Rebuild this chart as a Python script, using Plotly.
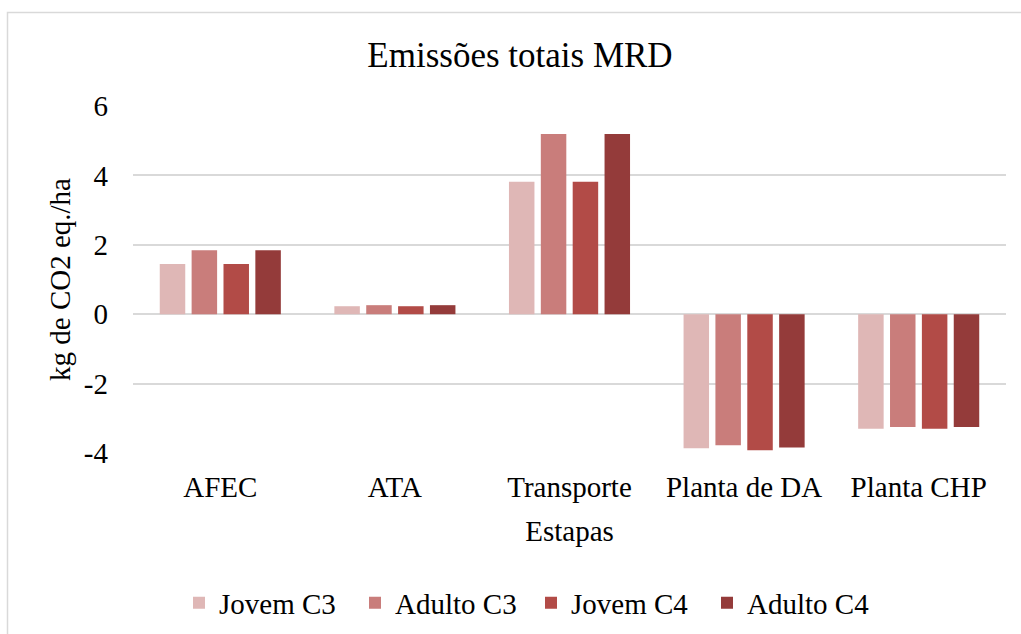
import plotly.graph_objects as go

# Stages (x categories)
etapas = ["AFEC", "ATA", "Transporte", "Planta de DA", "Planta CHP"]

# Emissions per stage, kg CO2 eq./ha
jovem_c3 = [1.45, 0.23, 3.82, -3.86, -3.30]
adulto_c3 = [1.84, 0.26, 5.19, -3.78, -3.25]
jovem_c4 = [1.45, 0.23, 3.82, -3.92, -3.30]
adulto_c4 = [1.84, 0.26, 5.19, -3.84, -3.25]

series_names = ["Jovem C3", "Adulto C3", "Jovem C4", "Adulto C4"]
series_values = [jovem_c3, adulto_c3, jovem_c4, adulto_c4]
series_colors = ["#DFB7B6", "#C97D7B", "#B24B47", "#943B3A"]

y_ticks = [-4, -2, 0, 2, 4, 6]

FONT = "Liberation Serif, Times New Roman, serif"
GRID = "#D9D9D9"

fig = go.Figure()
for name, vals, col in zip(series_names, series_values, series_colors):
    fig.add_trace(go.Bar(
        x=etapas, y=vals, name=name,
        marker=dict(color=col, line=dict(width=0)),
    ))

W, H = 1021, 634
ml, mr, mt, mb = 133, 15, 106, 181
pw, ph = W - ml - mr, H - mt - mb
bottom = H - mb  # pixel row of the plot-area bottom


def px_x(px):
    return (px - ml) / pw


def px_y(py):
    return (bottom - py) / ph


fig.update_layout(
    width=W, height=H,
    margin=dict(l=ml, r=mr, t=mt, b=mb, autoexpand=False),
    paper_bgcolor="white", plot_bgcolor="white",
    barmode="group", bargap=0.27, bargroupgap=0.2,
    font=dict(family=FONT, size=29, color="#000000"),
    title=dict(
        text="Emissões totais MRD",
        x=520 / W, xref="container", xanchor="center",
        y=1 - 55 / H, yref="container", yanchor="middle",
        font=dict(family=FONT, size=35, color="#000000"),
    ),
    xaxis=dict(
        showgrid=False, showline=False, ticks="",
        ticklabelstandoff=14, automargin=False,
        title=dict(text="Estapas", standoff=18,
                   font=dict(family=FONT, size=29, color="#000000")),
    ),
    yaxis=dict(
        range=[-4, 6], tickvals=y_ticks, ticktext=[str(v) for v in y_ticks],
        showgrid=True, gridcolor=GRID, gridwidth=1.5,
        zeroline=True, zerolinecolor=GRID, zerolinewidth=1.5,
        showline=False, ticks="", ticklabelstandoff=24, automargin=False,
        title=dict(text="kg de CO2 eq./ha", standoff=4,
                   font=dict(family=FONT, size=29, color="#000000")),
    ),
    legend=dict(
        orientation="h",
        x=px_x(179), xanchor="left",
        y=px_y(603), yanchor="middle",
        font=dict(family=FONT, size=29, color="#000000"),
        itemwidth=30, entrywidth=131, entrywidthmode="pixels",
        bgcolor="rgba(0,0,0,0)",
    ),
    shapes=[dict(
        type="rect", xref="paper", yref="paper",
        x0=px_x(7.5), x1=px_x(W + 20),
        y0=px_y(H + 20), y1=px_y(12.5),
        line=dict(color=GRID, width=1.5), fillcolor="rgba(0,0,0,0)",
        layer="below",
    )],
)

fig.write_html("out.html")
